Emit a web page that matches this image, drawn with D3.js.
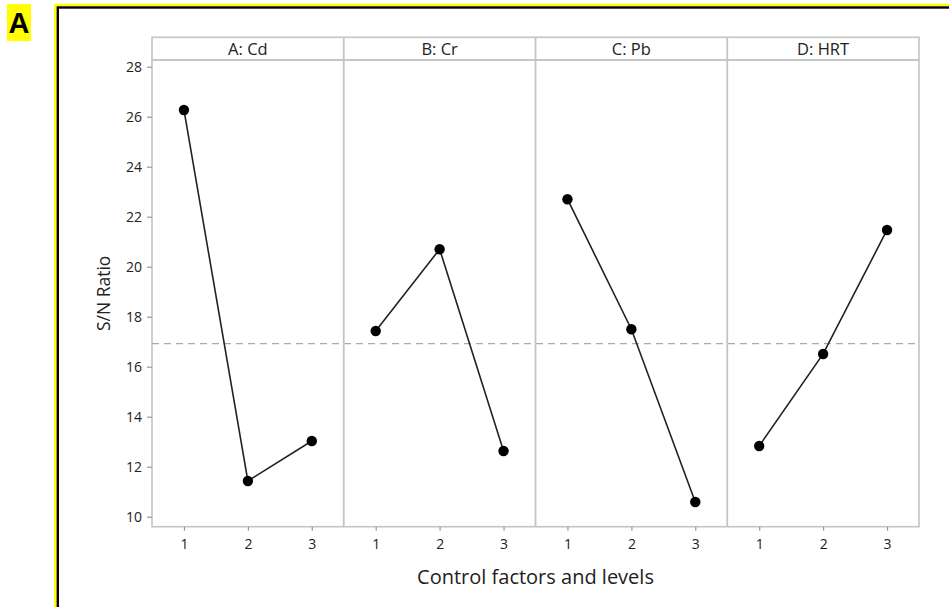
<!DOCTYPE html>
<html><head><meta charset="utf-8">
<script src="https://cdn.jsdelivr.net/npm/d3@7"></script>
<style>body{margin:0;background:#fff;}svg{display:block;}</style>
</head><body>
<svg id="c" width="949" height="607"></svg>
<script>
const factors = ["A: Cd", "B: Cr", "C: Pb", "D: HRT"];
const levels = ["1", "2", "3"];
const valuesA = [26.27, 11.43, 13.03];
const valuesB = [17.43, 20.70, 12.63];
const valuesC = [22.70, 17.50, 10.59];
const valuesD = [12.83, 16.51, 21.47];
const yTicks = [10, 12, 14, 16, 18, 20, 22, 24, 26, 28];
const series = [valuesA, valuesB, valuesC, valuesD];
const meanSN = d3.mean(series.flat());

(function () {
const svg = d3.select("#c");
const font = "'Open Sans', 'DejaVu Sans', sans-serif";

// frame
svg.append("rect").attr("x",55.3).attr("y",5).attr("width",1000).attr("height",700)
  .attr("fill","none").attr("stroke","#ffff00").attr("stroke-width",2.6);
svg.append("rect").attr("x",57.8).attr("y",7.5).attr("width",1000).attr("height",700)
  .attr("fill","none").attr("stroke","#000").attr("stroke-width",2.4);
// panel label
svg.append("rect").attr("x",7).attr("y",4).attr("width",24).attr("height",37).attr("fill","#ffff00");
svg.append("text").attr("x",19).attr("y",33).attr("text-anchor","middle")
  .attr("font-family","'Liberation Sans', Arial, sans-serif").attr("font-weight","bold")
  .attr("font-size",29).attr("fill","#000").text("A");

const pLeft = 152, pRight = 919, pTop = 60, pBottom = 526.7, stripTop = 37.3;
const y = d3.scaleLinear().domain([10, 28]).range([516.7, 66.7]);
const panel = d3.scaleBand().domain(factors).range([pLeft, pRight]);
const x = d3.scalePoint().domain(levels).range([0, panel.bandwidth()]).padding(0.5);

const gridCol = "#c4c4c4";

// strip
svg.append("rect").attr("x",pLeft).attr("y",stripTop).attr("width",pRight-pLeft).attr("height",pTop-stripTop)
  .attr("fill","#fff").attr("stroke",gridCol).attr("stroke-width",1.6);
// plot box
svg.append("rect").attr("x",pLeft).attr("y",pTop).attr("width",pRight-pLeft).attr("height",pBottom-pTop)
  .attr("fill","none").attr("stroke",gridCol).attr("stroke-width",1.6);

// mean line
svg.append("line").attr("x1",pLeft).attr("x2",pRight).attr("y1",y(meanSN)).attr("y2",y(meanSN))
  .attr("stroke","#a9a9a9").attr("stroke-width",1.4).attr("stroke-dasharray","7,5");

factors.forEach((f, i) => {
  const x0 = panel(f);
  if (i > 0) {
    svg.append("line").attr("x1",x0).attr("x2",x0).attr("y1",stripTop).attr("y2",pBottom)
      .attr("stroke",gridCol).attr("stroke-width",1.8);
  }
  svg.append("text").attr("x",x0 + panel.bandwidth()/2).attr("y",55)
    .attr("text-anchor","middle").attr("font-family",font).attr("font-size",16.5)
    .attr("fill","#222").text(f);

  const g = svg.append("g").attr("transform",`translate(${x0},0)`);
  const data = levels.map((l, j) => ({l, v: series[i][j]}));
  g.append("path").datum(data)
    .attr("d", d3.line().x(d => x(d.l)).y(d => y(d.v)))
    .attr("fill","none").attr("stroke","#222").attr("stroke-width",1.6);
  g.selectAll("circle").data(data).join("circle")
    .attr("cx", d => x(d.l)).attr("cy", d => y(d.v)).attr("r",5.2).attr("fill","#000");

  const ax = g.append("g").attr("transform",`translate(0,${pBottom})`)
    .call(d3.axisBottom(x).tickSize(4).tickPadding(8));
  ax.select(".domain").remove();
  ax.selectAll("line").attr("stroke","#999").attr("stroke-width",1.2);
  ax.selectAll("text").attr("font-family",font).attr("font-size",14).attr("fill","#222");
});

const ay = svg.append("g").attr("transform",`translate(${pLeft},0)`)
  .call(d3.axisLeft(y).tickValues(yTicks).tickSize(5).tickPadding(5));
ay.select(".domain").remove();
ay.selectAll("line").attr("stroke","#999").attr("stroke-width",1.2);
ay.selectAll("text").attr("font-family",font).attr("font-size",14).attr("fill","#222");

svg.append("text").attr("transform",`translate(110,${(pTop+pBottom)/2}) rotate(-90)`)
  .attr("text-anchor","middle").attr("font-family",font).attr("font-size",17.5)
  .attr("fill","#222").text("S/N Ratio");
svg.append("text").attr("x",(pLeft+pRight)/2).attr("y",584)
  .attr("text-anchor","middle").attr("font-family",font).attr("font-size",20)
  .attr("fill","#222").text("Control factors and levels");
})();
</script>
</body></html>
